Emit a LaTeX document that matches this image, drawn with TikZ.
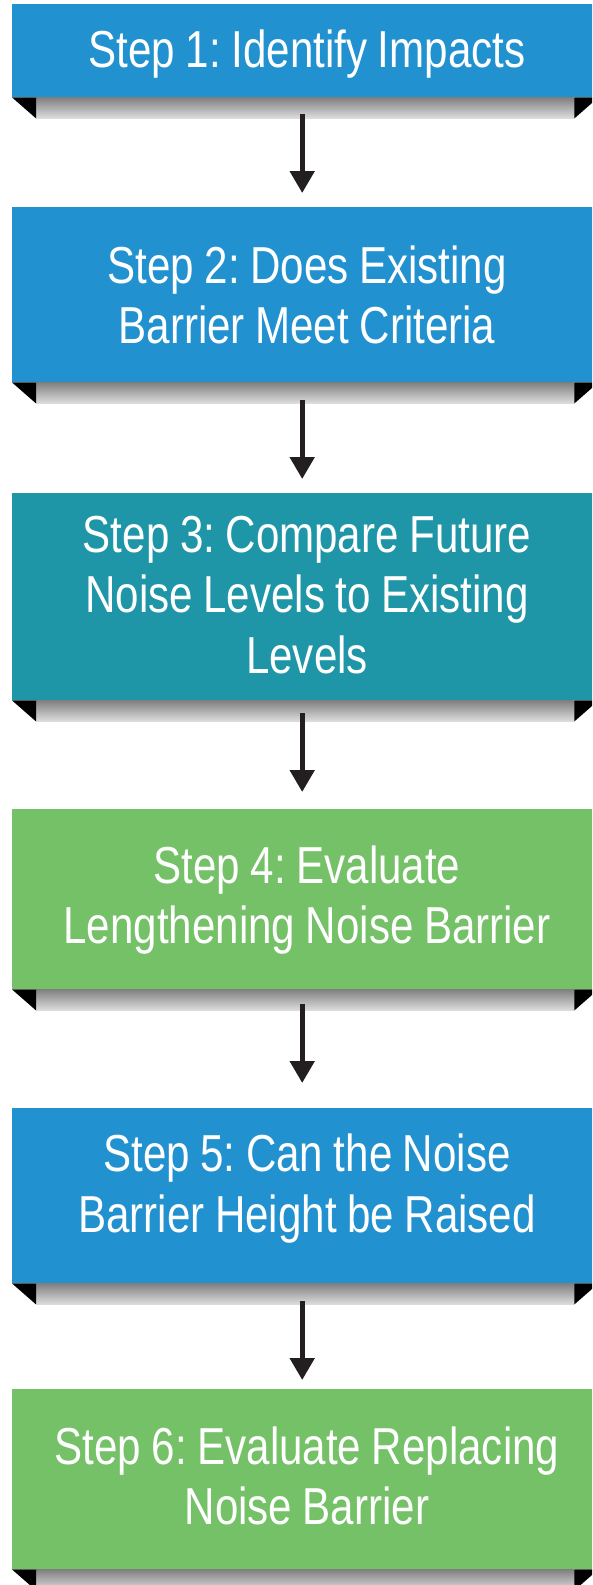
\documentclass[tikz,border=0pt]{standalone}
\usepackage{fontspec}
\newfontfamily\narrowfont{Liberation Sans}[FakeStretch=0.81,WordSpace=0.9]
\frenchspacing
\usetikzlibrary{arrows.meta,calc}
\definecolor{stepblue}{HTML}{2291CF}
\definecolor{stepteal}{HTML}{1F96A8}
\definecolor{stepgreen}{HTML}{74C167}
\definecolor{arrowdark}{HTML}{231F20}
\tikzset{
  stepbox/.style={rectangle, inner sep=0pt, minimum width=586pt, anchor=north west},
  steptext/.style={text=white, align=center, inner sep=0pt,
    font=\narrowfont\frenchspacing\fontsize{52}{60.5}\selectfont,
    execute at begin node=\strut, execute at end node=\strut},
  flow/.style={draw=arrowdark, line width=5pt, -{Triangle[width=24pt,length=22pt]}},
  shadowband/.style={top color=black!50, bottom color=black!13},
}
\begin{document}
\begin{tikzpicture}[x=1pt,y=-1pt]
\useasboundingbox (0,0) rectangle (592,1585);
\clip (0,0) rectangle (592,1585);
% boxes
\node[stepbox, fill=stepblue,  minimum height=93pt]  (b1) at (12,4) {};
\node[stepbox, fill=stepblue,  minimum height=175pt] (b2) at (12,207) {};
\node[stepbox, fill=stepteal,  minimum height=207pt] (b3) at (12,493) {};
\node[stepbox, fill=stepgreen, minimum height=180pt] (b4) at (12,809) {};
\node[stepbox, fill=stepblue,  minimum height=175pt] (b5) at (12,1108) {};
\node[stepbox, fill=stepgreen, minimum height=180pt] (b6) at (12,1389) {};
% shadows with folded corners
\foreach \b in {b1,b2,b3,b4,b5,b6}{
  \shade[shadowband] ($(\b.south west)+(24,0)$) rectangle ($(\b.south east)+(-24,21)$);
  \fill[black] (\b.south west) -- ++(24,0) -- ++(0,21) -- cycle;
  \fill[black] (\b.south east) -- ++(-24,0) -- ++(0,21) -- cycle;
}
% texts
\node[steptext] (t1) at (307,55.6) {Step 1: Identify Impacts};
\node[steptext] (t2) at (307,303.6) {Step 2: Does Existing\\Barrier Meet Criteria};
\node[steptext] (t3) at (307,603.6) {Step 3: Compare Future\\Noise Levels to Existing\\Levels};
\node[steptext] (t4) at (307,903.6) {Step 4: Evaluate\\Lengthening Noise Barrier};
\node[steptext] (t5) at (307,1192) {Step 5: Can the Noise\\Barrier Height be Raised};
\node[steptext] (t6) at (307,1484.6) {Step 6: Evaluate Replacing\\Noise Barrier};
% arrows
\draw[flow] ([shift={(-3,17)}]b1.south) -- ([shift={(-3,-14)}]b2.north);
\draw[flow] ([shift={(-3,18)}]b2.south) -- ([shift={(-3,-14)}]b3.north);
\draw[flow] ([shift={(-3,13)}]b3.south) -- ([shift={(-3,-17)}]b4.north);
\draw[flow] ([shift={(-3,15)}]b4.south) -- ([shift={(-3,-25)}]b5.north);
\draw[flow] ([shift={(-3,18)}]b5.south) -- ([shift={(-3,-9)}]b6.north);
\end{tikzpicture}
\end{document}
